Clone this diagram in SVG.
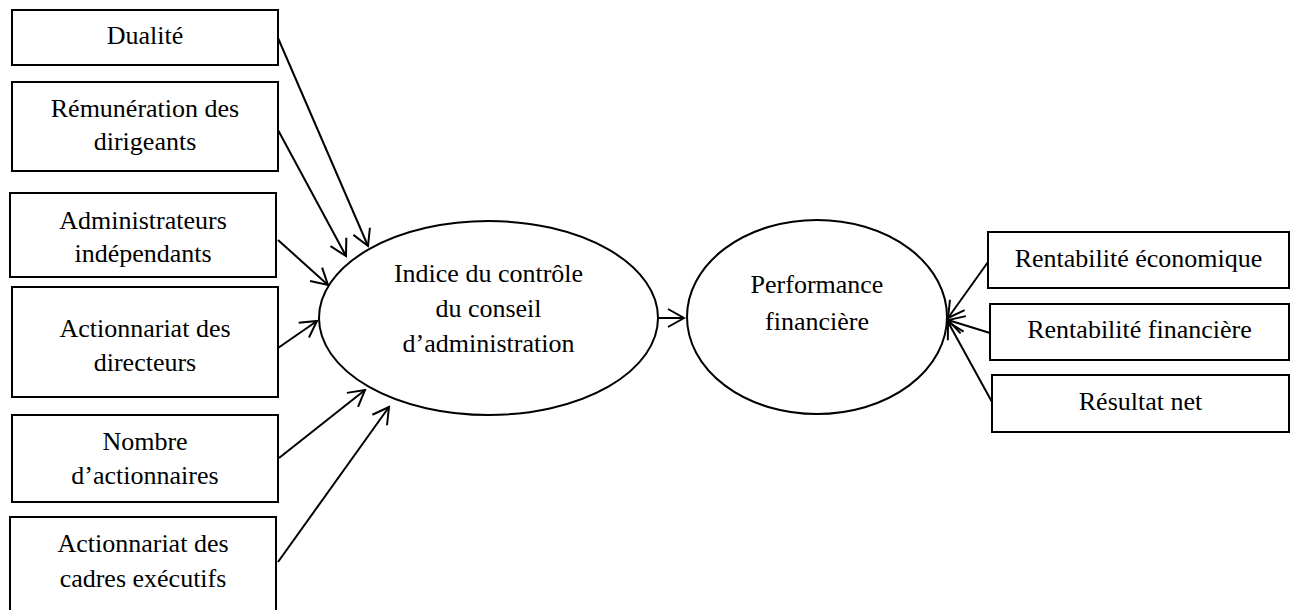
<svg xmlns="http://www.w3.org/2000/svg" width="1296" height="610" viewBox="0 0 1296 610">
<style>
.box{fill:#fff;stroke:#000;stroke-width:2}
.ell{fill:#fff;stroke:#000;stroke-width:2}
.t{font-family:"Liberation Serif","Times New Roman",serif;font-size:26px;fill:#000;text-anchor:middle}
.c{fill:none;stroke:#000;stroke-width:2;marker-end:url(#arr)}
</style>
<defs>
<marker id="arr" markerUnits="userSpaceOnUse" viewBox="-20 -12 22 24" refX="0" refY="0" markerWidth="22" markerHeight="24" orient="auto">
<path d="M-16 -9 L0 0 L-16 9" fill="none" stroke="#000" stroke-width="2"/>
</marker>
</defs>
<rect width="1296" height="610" fill="#fff"/>
<g id="connectors">
<line class="c" x1="278" y1="38" x2="368" y2="246"/>
<line class="c" x1="278" y1="130" x2="346" y2="256"/>
<line class="c" x1="278" y1="240" x2="328" y2="285"/>
<line class="c" x1="278" y1="348" x2="317" y2="321"/>
<line class="c" x1="279" y1="458" x2="365" y2="390"/>
<line class="c" x1="278" y1="562" x2="389" y2="407"/>
<line class="c" x1="658" y1="318" x2="684" y2="318"/>
<line class="c" x1="988" y1="262" x2="948" y2="318"/>
<line class="c" x1="990" y1="333" x2="948" y2="320"/>
<line class="c" x1="992" y1="402" x2="948" y2="322"/>
</g>
<g id="n-dualite">
<rect class="box" x="12" y="10" width="266" height="55"/>
<text class="t" x="145" y="44">Dualité</text>
</g>
<g id="n-remuneration">
<rect class="box" x="12" y="82" width="266" height="89"/>
<text class="t" x="145" y="117">Rémunération des</text>
<text class="t" x="145" y="150">dirigeants</text>
</g>
<g id="n-administrateurs">
<rect class="box" x="10" y="193" width="266" height="84"/>
<text class="t" x="143" y="229">Administrateurs</text>
<text class="t" x="143" y="262">indépendants</text>
</g>
<g id="n-actionnariat-directeurs">
<rect class="box" x="12" y="287" width="266" height="110"/>
<text class="t" x="145" y="337">Actionnariat des</text>
<text class="t" x="145" y="371">directeurs</text>
</g>
<g id="n-nombre">
<rect class="box" x="12" y="415" width="266" height="87"/>
<text class="t" x="145" y="450">Nombre</text>
<text class="t" x="145" y="484">d’actionnaires</text>
</g>
<g id="n-cadres">
<rect class="box" x="10" y="517" width="266" height="96"/>
<text class="t" x="143" y="552">Actionnariat des</text>
<text class="t" x="143" y="587">cadres exécutifs</text>
</g>
<g id="n-indice">
<ellipse class="ell" cx="488.5" cy="318" rx="169.5" ry="97"/>
<text class="t" x="488.5" y="282">Indice du contrôle</text>
<text class="t" x="488.5" y="317">du conseil</text>
<text class="t" x="488.5" y="352">d’administration</text>
</g>
<g id="n-performance">
<ellipse class="ell" cx="817" cy="317" rx="130" ry="97"/>
<text class="t" x="817" y="293">Performance</text>
<text class="t" x="817" y="330">financière</text>
</g>
<g id="n-rentabilite-eco">
<rect class="box" x="988" y="232" width="301" height="56"/>
<text class="t" x="1138.5" y="267">Rentabilité économique</text>
</g>
<g id="n-rentabilite-fin">
<rect class="box" x="990" y="304" width="299" height="56"/>
<text class="t" x="1139.5" y="338">Rentabilité financière</text>
</g>
<g id="n-resultat">
<rect class="box" x="992" y="375" width="297" height="57"/>
<text class="t" x="1140.5" y="410">Résultat net</text>
</g>
</svg>
